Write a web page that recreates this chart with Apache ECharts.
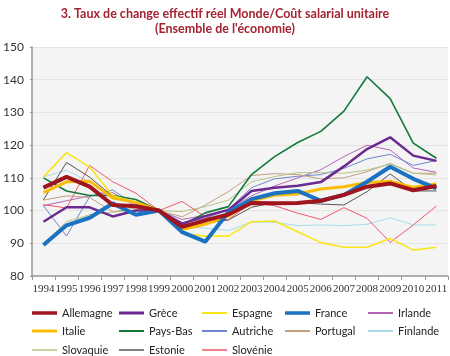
<!DOCTYPE html>
<html><head><meta charset="utf-8">
<script src="https://cdn.jsdelivr.net/npm/echarts@6/dist/echarts.min.js"></script>
<style>html,body{margin:0;padding:0;background:#fff}#c{width:450px;height:356px}</style>
</head><body><div id="c"></div>
<script>
const years = ['1994','1995','1996','1997','1998','1999','2000','2001','2002','2003','2004','2005','2006','2007','2008','2009','2010','2011'];
const yTicks = [80, 90, 100, 110, 120, 130, 140, 150];
const Allemagne = [107, 110.3, 107.3, 101.7, 101.3, 100, 95, 97, 98.8, 102.3, 102.2, 102.3, 103, 104.8, 107.3, 108.3, 106.2, 107.5];
const Grece = [96.6, 101, 101, 98.2, 100, 100, 96, 98.3, 100.2, 106, 107, 107.6, 108.7, 113.5, 118.8, 122.4, 116.8, 115.2];
const Espagne = [110.3, 117.7, 113.3, 104.5, 102.5, 100, 93, 92.2, 92.2, 96.6, 96.8, 93.5, 90.2, 88.8, 88.8, 91.5, 87.9, 88.8];
const France = [89.5, 95.5, 97.8, 102.2, 98.7, 100, 93.4, 90.5, 99.5, 103.5, 105.3, 106, 103, 104.8, 108.8, 113.4, 109.7, 106.8];
const Irlande = [101.5, 103, 104.5, 105.5, 101.2, 100, 97.3, 98.5, 100.3, 104.5, 107.5, 110, 112.5, 116.5, 120, 118.5, 113, 111.7];
const Italie = [105.5, 108.8, 109, 103.8, 102.5, 100, 94.2, 95.8, 98.3, 103, 104.7, 105.1, 106.6, 107.3, 108.6, 109, 107.1, 108.1];
const PaysBas = [110, 106, 104.6, 104.6, 103.4, 100, 95.5, 99.3, 101.2, 111, 116.5, 120.8, 124.2, 130.4, 140.9, 134.2, 120.6, 116];
const Autriche = [101.5, 92.2, 104.3, 106.3, 101.5, 100, 96.2, 97.6, 100.3, 107, 109.7, 110.5, 111, 112.9, 115.8, 117.2, 113.8, 115.3];
const Portugal = [103.2, 104.5, 104, 99.6, 100.8, 100, 98.1, 101.7, 105.8, 110.7, 111.3, 111, 109.7, 110, 111.9, 114.4, 111.4, 111.4];
const Finlande = [110.3, 112.3, 108.7, 104, 102, 100, 95, 94.6, 93.9, 96.5, 96.4, 95.4, 95.6, 95.4, 95.8, 97.8, 95.6, 95.6];
const Slovaquie = [89.8, 96.6, 98.7, 99.5, 100.2, 100, 99.7, 101.2, 103.2, 108.8, 110.4, 111.6, 111.6, 111.4, 112.4, 114.2, 111.4, 110.9];
const Estonie = [103.3, 114.7, 110.2, 104.3, 102.2, 100, 94.9, 96.2, 97.1, 101, 102.5, 102.4, 102, 101.7, 105.8, 111.2, 106, 106];
const Slovenie = [101.8, 100.8, 113.8, 108.8, 105.3, 100, 102.8, 98.1, 97.2, 102.5, 101.5, 99.2, 97.3, 100.9, 97.6, 90.3, 95.6, 101.4];

const seriesDefs = [
  {name:'Allemagne', data:Allemagne, color:'#a0141e', w:4, lw:3.5, z:9},
  {name:'Grèce', data:Grece, color:'#6b2a8f', w:2.5, lw:3, z:7},
  {name:'Espagne', data:Espagne, color:'#f8e61c', w:1.6, lw:2, z:5},
  {name:'France', data:France, color:'#1a73c2', w:4, lw:3.5, z:8},
  {name:'Irlande', data:Irlande, color:'#b366b8', w:1, lw:2, z:3},
  {name:'Italie', data:Italie, color:'#fbbc07', w:3, lw:3, z:6},
  {name:'Pays-Bas', data:PaysBas, color:'#137a3c', w:1.6, lw:2, z:4},
  {name:'Autriche', data:Autriche, color:'#6f86cc', w:1, lw:2, z:3},
  {name:'Portugal', data:Portugal, color:'#c2a07e', w:1, lw:2, z:3},
  {name:'Finlande', data:Finlande, color:'#a9dcea', w:1, lw:2, z:3},
  {name:'Slovaquie', data:Slovaquie, color:'#b6c486', w:1, lw:1.5, z:3},
  {name:'Estonie', data:Estonie, color:'#555555', w:1, lw:1.5, z:3},
  {name:'Slovénie', data:Slovenie, color:'#ee5a6a', w:1, lw:1.5, z:3}
];
const cols = [32, 119, 202, 285, 368];
const rows = [313, 331, 350];
const legends = seriesDefs.map((s, i) => ({
  left: cols[i % 5], top: rows[Math.floor(i / 5)] - 7,
  itemWidth: 25, itemHeight: s.lw, itemGap: 0, padding: 0,
  textStyle: {fontSize: 11, color: '#222', fontFamily: 'Lato', lineHeight: 14},
  data: [{name: s.name, icon: 'rect'}]
}));
const chart = echarts.init(document.getElementById('c'), null, {renderer:'canvas'});
chart.setOption({
  animation: false,
  title: {
    text: '3. Taux de change effectif réel Monde/Coût salarial unitaire\n(Ensemble de l\'économie)',
    left: 'center', top: 1,
    textStyle: {fontSize: 12.5, fontWeight: 'bold', color: '#a52330', fontFamily: 'Lato', lineHeight: 15}
  },
  legend: legends,
  grid: {left: 27, right: 0, top: 47, bottom: 80, show: true, backgroundColor: '#f4f4f4', borderWidth: 0},
  xAxis: {
    type: 'category', data: years, boundaryGap: true,
    axisLine: {lineStyle: {color: '#999', width: 1.5}},
    axisTick: {show: true, length: 4, lineStyle: {color: '#999'}},
    axisLabel: {fontSize: 11, color: '#333', margin: 8, interval: 0, fontFamily: 'Liberation Sans Narrow'}
  },
  yAxis: {
    type: 'value', min: yTicks[0], max: yTicks[yTicks.length-1], interval: 10,
    axisLine: {show: true, lineStyle: {color: '#999', width: 1.5}},
    axisTick: {show: true, length: 2, lineStyle: {color: '#999'}},
    axisLabel: {fontSize: 12, color: '#333', margin: 8, fontFamily: 'Lato'},
    splitLine: {lineStyle: {color: '#e4e4e4'}}
  },
  series: seriesDefs.map(s => ({
    name: s.name, type: 'line', data: s.data, symbol: 'none', z: s.z,
    lineStyle: {color: s.color, width: s.w}, itemStyle: {color: s.color}
  }))
});
</script></body></html>
